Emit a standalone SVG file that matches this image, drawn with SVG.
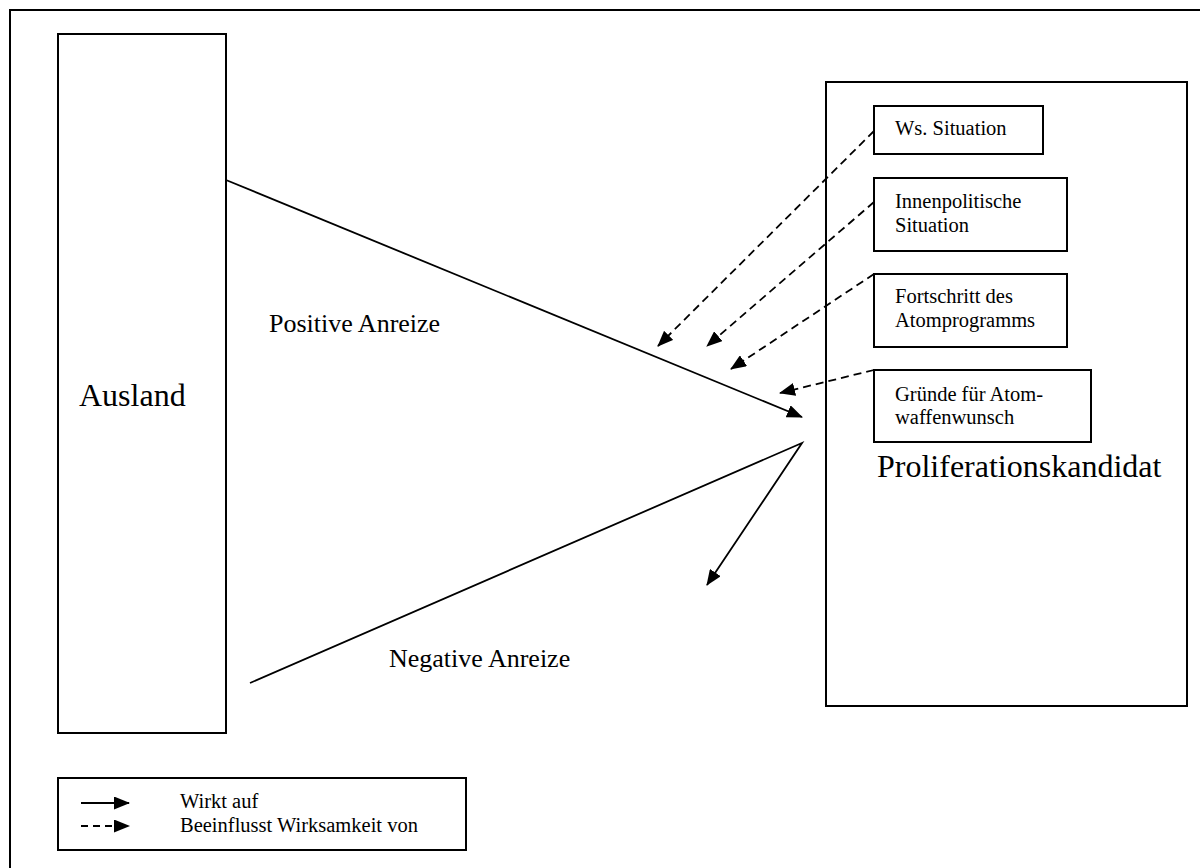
<svg xmlns="http://www.w3.org/2000/svg" width="1200" height="868" viewBox="0 0 1200 868">
  <style>
    .box { fill: #ffffff; stroke: #000000; stroke-width: 2; }
    .frame { fill: none; stroke: #000000; stroke-width: 2; }
    .txt { font-family: "Liberation Serif", "Times New Roman", serif; fill: #000000; }
    .big { font-size: 32px; }
    .lbl { font-size: 26px; }
    .sm { font-size: 20.5px; }
    .solid { fill: none; stroke: #000000; stroke-width: 1.8; }
    .dash { fill: none; stroke: #000000; stroke-width: 1.8; stroke-dasharray: 8 5; }
  </style>
  <defs>
    <marker id="head" markerWidth="16" markerHeight="13" refX="15" refY="6.5" orient="auto" markerUnits="userSpaceOnUse">
      <path d="M0,0 L16,6.5 L0,13 Z" fill="#000000"/>
    </marker>
  </defs>

  <rect width="1200" height="868" fill="#ffffff"/>

  <!-- page frame, open to the right and bottom -->
  <path class="frame" d="M10,880 L10,10 L1210,10"/>

  <g id="ausland">
    <rect class="box" x="58" y="34" width="168" height="699"/>
    <text class="txt big" x="79" y="406">Ausland</text>
  </g>

  <g id="kandidat">
    <rect class="box" x="826" y="82" width="361" height="624"/>
    <text class="txt big" x="877" y="477">Proliferationskandidat</text>
  </g>

  <g id="ws-situation">
    <rect class="box" x="874" y="106" width="169" height="48"/>
    <text class="txt sm" x="895" y="135">Ws. Situation</text>
  </g>

  <g id="innenpolitik">
    <rect class="box" x="874" y="178" width="193" height="73"/>
    <text class="txt sm" x="895" y="208">Innenpolitische</text>
    <text class="txt sm" x="895" y="232">Situation</text>
  </g>

  <g id="fortschritt">
    <rect class="box" x="874" y="274" width="193" height="73"/>
    <text class="txt sm" x="895" y="303">Fortschritt des</text>
    <text class="txt sm" x="895" y="327">Atomprogramms</text>
  </g>

  <g id="gruende">
    <rect class="box" x="874" y="370" width="217" height="72"/>
    <text class="txt sm" x="895" y="401">Gründe für Atom-</text>
    <text class="txt sm" x="895" y="424">waffenwunsch</text>
  </g>

  <g id="labels">
    <text class="txt lbl" x="269" y="332">Positive Anreize</text>
    <text class="txt lbl" x="389" y="667">Negative Anreize</text>
  </g>

  <g id="connectors">
    <!-- incentives -->
    <line class="solid" x1="226" y1="180" x2="802" y2="417" marker-end="url(#head)"/>
    <polyline class="solid" points="250,683 802,443 707,585" marker-end="url(#head)"/>
    <!-- influencing factors -->
    <line class="dash" x1="874" y1="131" x2="658" y2="346" marker-end="url(#head)"/>
    <line class="dash" x1="874" y1="202" x2="707" y2="346" marker-end="url(#head)"/>
    <line class="dash" x1="874" y1="274" x2="731" y2="369" marker-end="url(#head)"/>
    <line class="dash" x1="874" y1="370" x2="780" y2="393" marker-end="url(#head)"/>
  </g>

  <g id="legend">
    <rect class="box" x="58" y="778" width="408" height="72"/>
    <line class="solid" x1="81" y1="803" x2="129" y2="803" marker-end="url(#head)"/>
    <line class="solid" x1="81" y1="826" x2="129" y2="826" stroke-dasharray="7 5" marker-end="url(#head)"/>
    <text class="txt sm" x="180" y="808">Wirkt auf</text>
    <text class="txt sm" x="180" y="832">Beeinflusst Wirksamkeit von</text>
  </g>
</svg>
